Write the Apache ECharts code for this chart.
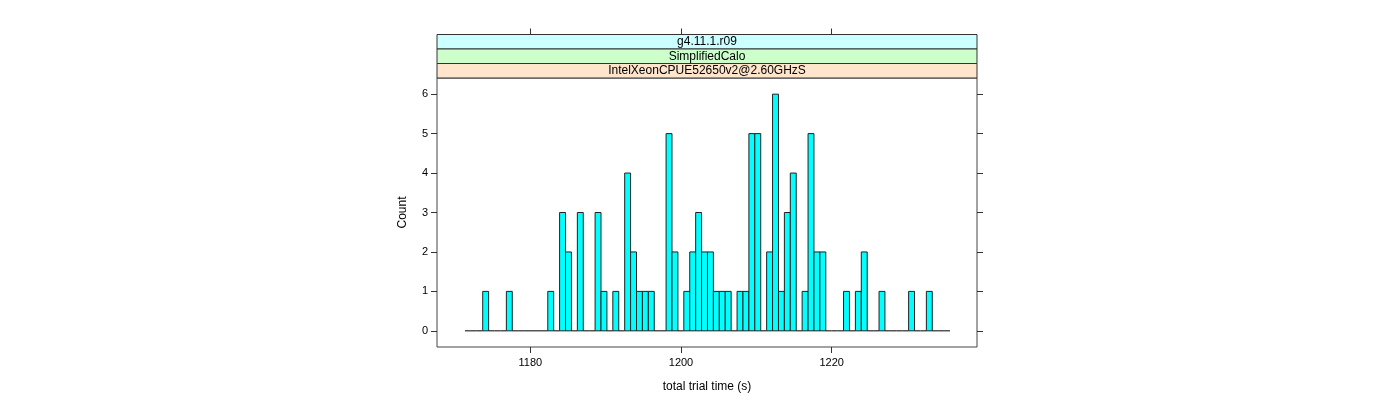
<!DOCTYPE html>
<html>
<head>
<meta charset="utf-8">
<script src="https://cdn.jsdelivr.net/npm/echarts@6/dist/echarts.min.js"></script>
<style>
  html, body { margin: 0; padding: 0; background: #fff; }
  #chart { width: 1400px; height: 400px; }
</style>
</head>
<body>
<div id="chart"></div>
<script>
// histogram breaks: first break and bin width (seconds)
var firstBreak = 1171.33;
var binWidth = 0.785;
// counts per bin
var counts = [
  0, 0, 0, 1, 0, 0, 0, 1, 0, 0,
  0, 0, 0, 0, 1, 0, 3, 2, 0, 3,
  0, 0, 3, 1, 0, 1, 0, 4, 2, 1,
  1, 1, 0, 0, 5, 2, 0, 1, 2, 3,
  2, 2, 1, 1, 1, 0, 1, 1, 5, 5,
  0, 2, 6, 1, 3, 4, 0, 1, 5, 2,
  2, 0, 0, 0, 1, 0, 1, 2, 0, 0,
  1, 0, 0, 0, 0, 1, 0, 0, 1, 0,
  0, 0
];
var xTicks = [1180, 1200, 1220];
var yTicks = [0, 1, 2, 3, 4, 5, 6];
var strips = ['g4.11.1.r09', 'SimplifiedCalo', 'IntelXeonCPUE52650v2@2.60GHzS'];
var stripColors = ['#ccffff', '#ccffcc', '#ffe5cc'];

var bins = counts.map(function (c, i) {
  return [firstBreak + i * binWidth, firstBreak + (i + 1) * binWidth, c];
});

var font = 'Liberation Sans, Arial, sans-serif';
var panel = { left: 437, right: 977, top: 78, bottom: 347 };
var stripH = 14.5;

var graphics = [];
strips.forEach(function (s, k) {
  // first strip sits on top, last one next to the panel
  var y = panel.top - stripH * (strips.length - k);
  graphics.push({
    type: 'rect',
    shape: { x: panel.left, y: y, width: panel.right - panel.left, height: stripH },
    style: { fill: stripColors[k], stroke: '#333', lineWidth: 1 }
  });
  graphics.push({
    type: 'text',
    x: (panel.left + panel.right) / 2, y: y + stripH / 2,
    style: { text: s, fill: '#000', font: '12px ' + font, align: 'center', verticalAlign: 'middle' }
  });
});

var tick = { show: true, length: 6, inside: false, lineStyle: { color: '#333' } };
var plain = function (v) { return String(v); };

var chart = echarts.init(document.getElementById('chart'), null, { renderer: 'canvas' });
chart.setOption({
  animation: false,
  backgroundColor: '#fff',
  grid: {
    left: panel.left, right: 1400 - panel.right, top: panel.top, bottom: 400 - panel.bottom,
    show: true, borderColor: '#444', borderWidth: 1, backgroundColor: 'transparent'
  },
  xAxis: [{
    type: 'value', min: 1167.62, max: 1239.28, position: 'bottom',
    name: 'total trial time (s)', nameLocation: 'middle', nameGap: 34,
    nameTextStyle: { fontFamily: font, fontSize: 12, color: '#000' },
    axisLine: { show: false, onZero: false },
    axisTick: Object.assign({ customValues: xTicks }, tick),
    axisLabel: { fontFamily: font, fontSize: 11, color: '#000', margin: 10, customValues: xTicks, formatter: plain },
    splitLine: { show: false }
  }, {
    type: 'value', min: 1167.62, max: 1239.28, position: 'top', offset: stripH * 3,
    axisLine: { show: false, onZero: false },
    axisTick: Object.assign({ customValues: xTicks }, tick),
    axisLabel: { show: false },
    splitLine: { show: false }
  }],
  yAxis: [{
    type: 'value', min: -0.41, max: 6.41, position: 'left',
    name: 'Count', nameLocation: 'middle', nameGap: 28, nameRotate: 90,
    nameTextStyle: { fontFamily: font, fontSize: 12, color: '#000' },
    axisLine: { show: false, onZero: false },
    axisTick: Object.assign({ customValues: yTicks }, tick),
    axisLabel: { fontFamily: font, fontSize: 11, color: '#000', margin: 9, customValues: yTicks, formatter: plain },
    splitLine: { show: false }
  }, {
    type: 'value', min: -0.41, max: 6.41, position: 'right',
    axisLine: { show: false, onZero: false },
    axisTick: Object.assign({ customValues: yTicks }, tick),
    axisLabel: { show: false },
    splitLine: { show: false }
  }],
  graphic: graphics,
  series: [{
    type: 'custom',
    xAxisIndex: 0, yAxisIndex: 0,
    data: bins,
    renderItem: function (params, api) {
      var p0 = api.coord([api.value(0), 0]);
      var p1 = api.coord([api.value(1), api.value(2)]);
      if (api.value(2) === 0) {
        return {
          type: 'line',
          shape: { x1: p0[0], y1: p0[1], x2: p1[0], y2: p0[1] },
          style: { stroke: '#000', lineWidth: 1 }
        };
      }
      return {
        type: 'rect',
        shape: { x: p0[0], y: p1[1], width: p1[0] - p0[0], height: p0[1] - p1[1] },
        style: { fill: '#00ffff', stroke: '#222', lineWidth: 1 }
      };
    }
  }]
});
</script>
</body>
</html>
